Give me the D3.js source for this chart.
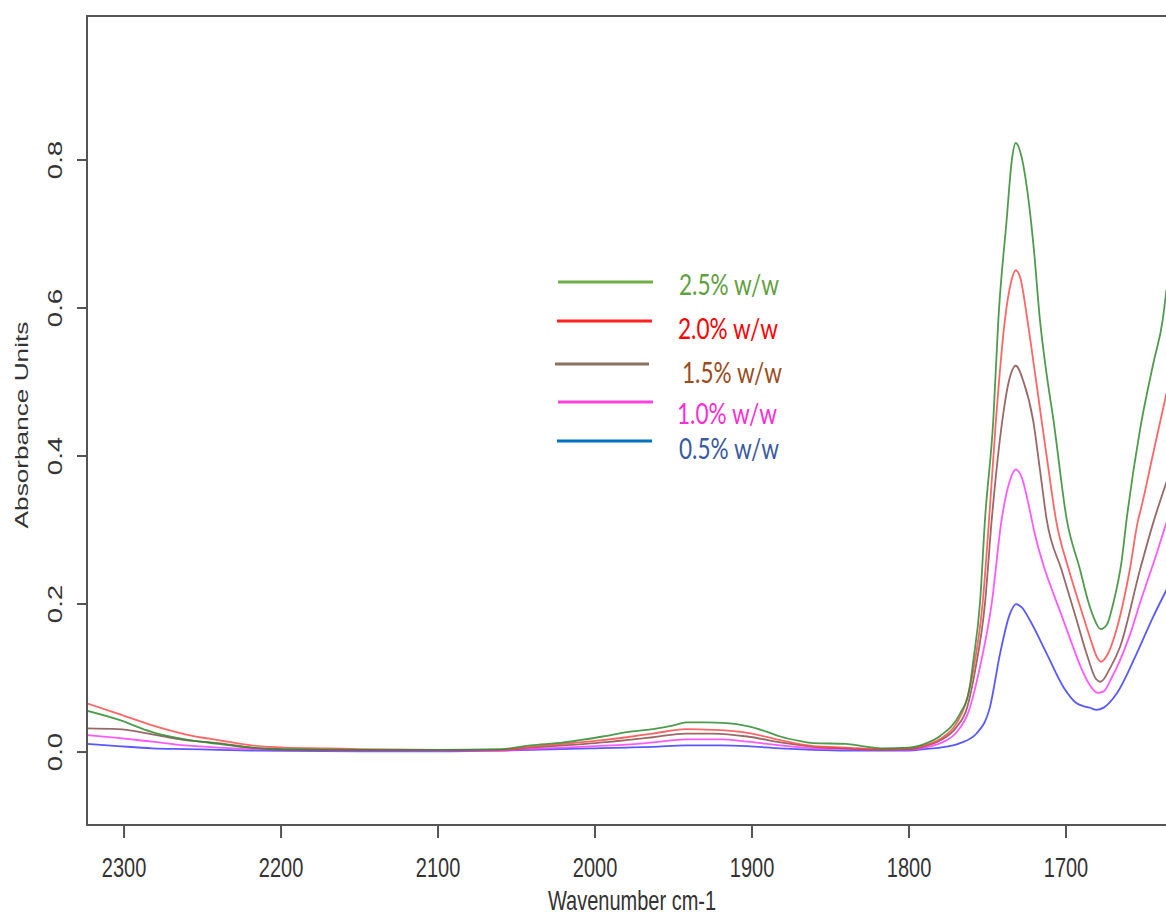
<!DOCTYPE html>
<html>
<head>
<meta charset="utf-8">
<script src="https://cdn.jsdelivr.net/npm/d3@7"></script>
<style>
  body { margin: 0; background: #fff; }
  svg { display: block; }
</style>
</head>
<body>
<svg id="chart" width="1166" height="915"></svg>
<script>
// FTIR absorbance spectra, 5 concentrations

var seriesNames = ["2.5% w/w", "2.0% w/w", "1.5% w/w", "1.0% w/w", "0.5% w/w"];
var lineColors = ["#2f8a2f", "#ff4a4a", "#8a4e4e", "#ff3cff", "#3c3cff"];
var legendLineColors = ["#70ad47", "#ff2020", "#8c7060", "#ff44dd", "#0070c0"];
var legendTextColors = ["#5fa040", "#ff0000", "#9a4c1c", "#ff2ed0", "#3a5a9f"];

var xTicks = [2300, 2200, 2100, 2000, 1900, 1800, 1700];
var yTicks = [0.0, 0.2, 0.4, 0.6, 0.8];

// [wavenumber, absorbance]
var green25 = [[2324,0.056],[2304,0.044],[2282,0.027],[2261,0.017],[2240,0.011],[2219,0.006],[2198,0.004],[2150,0.003],[2100,0.003],[2060,0.004],[2041,0.009],[2020,0.013],[2010,0.016],[1995,0.021],[1980,0.027],[1963,0.031],[1950,0.036],[1942,0.040],[1930,0.040],[1916,0.039],[1903,0.035],[1890,0.027],[1882,0.021],[1870,0.015],[1861,0.012],[1840,0.011],[1830,0.008],[1818,0.005],[1800,0.006],[1790,0.011],[1780,0.022],[1767.5,0.052],[1762,0.08],[1759,0.124],[1754.8,0.201],[1751.6,0.314],[1746.3,0.449],[1743.1,0.584],[1737.8,0.719],[1734.5,0.80],[1732,0.823],[1729,0.81],[1725,0.764],[1720.5,0.68],[1716.6,0.584],[1712.3,0.51],[1708,0.449],[1699.5,0.314],[1691,0.246],[1685.8,0.203],[1682.6,0.183],[1678,0.166],[1674,0.172],[1669.9,0.201],[1664.5,0.259],[1661.4,0.314],[1652.9,0.435],[1644.4,0.525],[1638.4,0.584],[1636,0.625]];
var red20 = [[2324,0.066],[2304,0.052],[2282,0.036],[2261,0.024],[2240,0.016],[2219,0.009],[2198,0.006],[2170,0.005],[2150,0.004],[2100,0.003],[2060,0.003],[2041,0.007],[2020,0.011],[2000,0.015],[1980,0.020],[1963,0.025],[1942,0.031],[1925,0.030],[1903,0.026],[1882,0.016],[1861,0.008],[1840,0.006],[1818,0.004],[1800,0.005],[1790,0.009],[1780,0.018],[1770,0.038],[1764,0.065],[1759,0.111],[1753.1,0.201],[1749,0.314],[1744.6,0.449],[1738.9,0.584],[1735,0.635],[1732,0.651],[1729,0.640],[1724.6,0.584],[1720,0.516],[1715.6,0.449],[1711,0.380],[1706.4,0.314],[1698,0.245],[1690,0.190],[1684,0.150],[1680,0.127],[1677.7,0.122],[1674,0.13],[1667.9,0.165],[1659.4,0.246],[1654,0.314],[1652.9,0.323],[1644.4,0.404],[1636,0.485]];
var brown15 = [[2324,0.032],[2304,0.031],[2282,0.024],[2261,0.016],[2240,0.012],[2219,0.006],[2198,0.003],[2150,0.003],[2100,0.003],[2060,0.003],[2041,0.006],[2020,0.009],[2000,0.012],[1980,0.016],[1963,0.020],[1942,0.025],[1925,0.025],[1903,0.021],[1882,0.013],[1861,0.007],[1840,0.005],[1818,0.003],[1800,0.004],[1790,0.008],[1780,0.016],[1770,0.033],[1763,0.06],[1757.8,0.111],[1751.6,0.201],[1747.3,0.314],[1740.5,0.449],[1736.5,0.500],[1732,0.522],[1727,0.500],[1721,0.449],[1716.5,0.380],[1712.3,0.314],[1702.8,0.246],[1697,0.205],[1693.2,0.178],[1686,0.127],[1681,0.099],[1678,0.095],[1672,0.113],[1665.6,0.142],[1652.9,0.246],[1644.4,0.31],[1636,0.365]];
var magenta10 = [[2324,0.023],[2304,0.019],[2282,0.014],[2261,0.009],[2240,0.006],[2219,0.004],[2198,0.003],[2150,0.002],[2100,0.002],[2060,0.002],[2041,0.004],[2020,0.006],[2000,0.008],[1980,0.010],[1963,0.013],[1942,0.017],[1920,0.017],[1903,0.014],[1882,0.009],[1861,0.005],[1840,0.004],[1818,0.003],[1800,0.003],[1790,0.006],[1780,0.012],[1770,0.026],[1762,0.055],[1755.2,0.111],[1747.3,0.201],[1741,0.314],[1736,0.365],[1732,0.382],[1728,0.370],[1724,0.336],[1720,0.296],[1714,0.250],[1708,0.214],[1702,0.180],[1696,0.145],[1690,0.112],[1685,0.091],[1680,0.080],[1676,0.082],[1671,0.10],[1665.6,0.124],[1659,0.16],[1652.9,0.201],[1642.3,0.268],[1636,0.31]];
var blue05 = [[2324,0.011],[2304,0.008],[2282,0.005],[2261,0.004],[2240,0.003],[2219,0.002],[2150,0.001],[2100,0.001],[2060,0.002],[2041,0.003],[2000,0.005],[1980,0.006],[1963,0.007],[1942,0.009],[1920,0.009],[1903,0.008],[1882,0.005],[1861,0.003],[1840,0.002],[1800,0.002],[1790,0.004],[1780,0.006],[1767.5,0.012],[1757,0.025],[1748.4,0.061],[1742,0.133],[1736,0.185],[1732,0.200],[1728,0.195],[1723,0.178],[1712.3,0.133],[1701.7,0.088],[1693.2,0.066],[1689,0.062],[1685,0.060],[1680.5,0.057],[1676,0.06],[1667.7,0.079],[1655,0.133],[1644.4,0.183],[1636,0.219]];

var allSeries = [green25, red20, brown15, magenta10, blue05];

var svg = d3.select("#chart");
var plotLeft = 87, plotTop = 16, plotBottom = 825, plotRight = 1166;
var stretch = 1.38; // the source picture is stretched vertically

var x = d3.scaleLinear().domain([2323.6, 1636.3]).range([plotLeft, plotRight]);
var y = d3.scaleLinear().domain([-0.0986, 0.9946]).range([plotBottom, plotTop]);

svg.append("defs").append("clipPath").attr("id", "plotclip")
  .append("rect").attr("x", plotLeft).attr("y", plotTop)
  .attr("width", plotRight - plotLeft).attr("height", plotBottom - plotTop);

var line = d3.line()
    .x(function(d) { return x(d[0]); })
    .y(function(d) { return y(d[1]); })
    .curve(d3.curveMonotoneX);

// draw the smallest first so the big ones sit on top like in the plot
var g = svg.append("g").attr("clip-path", "url(#plotclip)");
[4, 3, 2, 1, 0].forEach(function(i) {
  g.append("path")
    .datum(allSeries[i])
    .attr("d", line)
    .attr("fill", "none")
    .attr("stroke", lineColors[i])
    .attr("stroke-width", 1.8)
    .attr("stroke-opacity", 0.85);
});

// box (right side runs off the picture)
var axisColor = "#555";
svg.append("path")
  .attr("d", "M" + (plotRight + 5) + "," + plotTop + "H" + plotLeft + "V" + plotBottom + "H" + (plotRight + 5))
  .attr("fill", "none").attr("stroke", axisColor).attr("stroke-width", 2);

// x ticks + labels
xTicks.forEach(function(t) {
  var px = x(t);
  svg.append("line").attr("x1", px).attr("x2", px).attr("y1", plotBottom).attr("y2", plotBottom + 13)
    .attr("stroke", axisColor).attr("stroke-width", 2);
  svg.append("text")
    .attr("transform", "translate(" + px + ",877) scale(1," + stretch + ")")
    .attr("text-anchor", "middle")
    .attr("font-family", "Liberation Sans, Arial, sans-serif")
    .attr("font-size", 20).attr("fill", "#333")
    .text(t);
});

// y ticks + labels
yTicks.forEach(function(t) {
  var py = y(t);
  svg.append("line").attr("x1", plotLeft - 10).attr("x2", plotLeft).attr("y1", py).attr("y2", py)
    .attr("stroke", axisColor).attr("stroke-width", 2);
  svg.append("text")
    .attr("transform", "translate(62," + py + ") scale(1," + stretch + ") rotate(-90)")
    .attr("text-anchor", "middle")
    .attr("font-family", "Liberation Sans, Arial, sans-serif")
    .attr("font-size", 20).attr("fill", "#333")
    .text(t.toFixed(1));
});

// axis titles
svg.append("text")
  .attr("transform", "translate(632,910) scale(1," + stretch + ")")
  .attr("text-anchor", "middle")
  .attr("font-family", "Liberation Sans, Arial, sans-serif")
  .attr("font-size", 20).attr("fill", "#333")
  .text("Wavenumber cm-1");

svg.append("text")
  .attr("transform", "translate(28,425) scale(1," + stretch + ") rotate(-90)")
  .attr("text-anchor", "middle")
  .attr("font-family", "Liberation Sans, Arial, sans-serif")
  .attr("font-size", 19).attr("fill", "#333")
  .text("Absorbance Units");

// legend
var legLineX = [[558, 653], [557, 652], [555, 649], [558, 653], [557, 652]];
var legLineY = [282, 321, 364, 402, 441];
var legTextX = [679, 678, 682, 677, 679];
var legTextY = [295, 339, 383, 424, 459];

seriesNames.forEach(function(name, i) {
  svg.append("line")
    .attr("x1", legLineX[i][0]).attr("x2", legLineX[i][1])
    .attr("y1", legLineY[i]).attr("y2", legLineY[i])
    .attr("stroke", legendLineColors[i]).attr("stroke-width", 3.2);
  svg.append("text")
    .attr("transform", "translate(" + legTextX[i] + "," + legTextY[i] + ") scale(1,1.3)")
    .attr("font-family", "Lato, 'Open Sans', sans-serif")
    .attr("font-size", 22)
    .attr("textLength", 100).attr("lengthAdjust", "spacingAndGlyphs")
    .attr("fill", legendTextColors[i])
    .text(name);
});
</script>
</body>
</html>
